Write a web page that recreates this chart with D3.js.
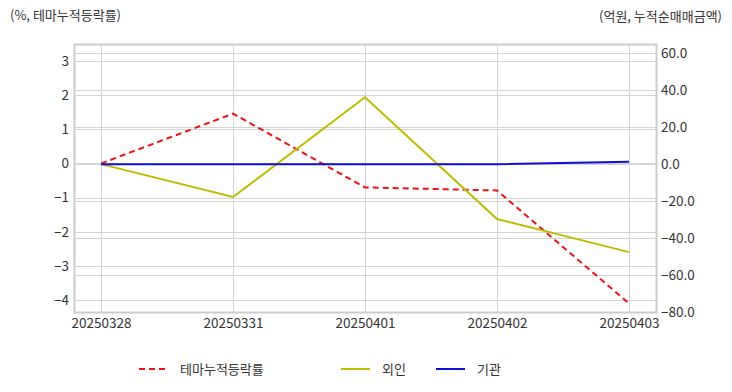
<!DOCTYPE html>
<html>
<head>
<meta charset="utf-8">
<script src="https://cdn.jsdelivr.net/npm/d3@7"></script>
<style>
  body { margin: 0; background: #fff; }
  text { font-family: "Noto Sans CJK KR", "Noto Sans", sans-serif; }
</style>
</head>
<body>
<svg id="chart" width="732" height="392"></svg>
<script>
const dates = ['20250328', '20250331', '20250401', '20250402', '20250403'];
const themeReturn = [0, 1.46, -0.70, -0.79, -4.10];      // left axis, %
const foreign = [0, -17.8, 36.2, -29.7, -47.6];          // right axis, 억원
const institution = [0, 0, 0, 0, 1.3];                   // right axis, 억원
const leftTicks = [3, 2, 1, 0, -1, -2, -3, -4];
const rightTicks = [60, 40, 20, 0, -20, -40, -60, -80];

const svg = d3.select('#chart');
const plotL = 74, plotR = 656, plotT = 44, plotB = 312;

const x = d3.scalePoint().domain(dates).range([plotL, plotR]).padding(0.2045);
const yL = d3.scaleLinear().domain([-4.35, 3.5]).range([plotB, plotT]);
const yR = d3.scaleLinear().domain([-80, 65]).range([plotB, plotT]);

const grid = svg.append('g').attr('stroke', '#d4d4d4').attr('stroke-width', 1);
grid.selectAll('.gl').data(leftTicks).join('line')
  .attr('x1', plotL).attr('x2', plotR)
  .attr('y1', d => Math.round(yL(d)) + 0.5).attr('y2', d => Math.round(yL(d)) + 0.5);
grid.selectAll('.gr').data(rightTicks).join('line')
  .attr('x1', plotL).attr('x2', plotR)
  .attr('y1', d => Math.round(yR(d)) + 0.5).attr('y2', d => Math.round(yR(d)) + 0.5);
grid.selectAll('.gx').data(dates).join('line')
  .attr('y1', plotT).attr('y2', plotB)
  .attr('x1', d => Math.round(x(d)) + 0.5).attr('x2', d => Math.round(x(d)) + 0.5);

svg.append('rect')
  .attr('x', plotL + 0.5).attr('y', plotT + 0.5)
  .attr('width', plotR - plotL).attr('height', plotB - plotT)
  .attr('fill', 'none').attr('stroke', '#cccccc').attr('stroke-width', 2);

const axisText = { size: 13.5, fill: '#333' };

svg.append('g').attr('transform', `translate(${plotL},0)`)
  .call(d3.axisLeft(yL).tickValues(leftTicks).tickFormat(d3.format('d')).tickSize(0).tickPadding(5))
  .call(g => g.select('.domain').remove())
  .call(g => g.selectAll('text').attr('font-size', axisText.size).attr('fill', axisText.fill)
    .style('font-family', '"Noto Sans CJK KR", sans-serif'));

svg.append('g').attr('transform', `translate(${plotR},0)`)
  .call(d3.axisRight(yR).tickValues(rightTicks).tickFormat(d3.format('.1f')).tickSize(0).tickPadding(5))
  .call(g => g.select('.domain').remove())
  .call(g => g.selectAll('text').attr('font-size', axisText.size).attr('fill', axisText.fill)
    .style('font-family', '"Noto Sans CJK KR", sans-serif'));

svg.append('g').attr('transform', `translate(0,${plotB})`)
  .call(d3.axisBottom(x).tickSize(0).tickPadding(6))
  .call(g => g.select('.domain').remove())
  .call(g => g.selectAll('text').attr('font-size', axisText.size).attr('fill', axisText.fill)
    .style('font-family', '"Noto Sans CJK KR", sans-serif'));

svg.append('text').attr('x', 10).attr('y', 20).attr('font-size', 13).attr('fill', '#333')
  .text('(%, 테마누적등락률)');
svg.append('text').attr('x', 722).attr('y', 21).attr('font-size', 13).attr('fill', '#333')
  .attr('text-anchor', 'end').text('(억원, 누적순매매금액)');

const series = [
  { name: '테마누적등락률', values: themeReturn, y: yL, color: '#e8141a', dash: '6,4' },
  { name: '외인', values: foreign, y: yR, color: '#bcbc00', dash: null },
  { name: '기관', values: institution, y: yR, color: '#1010dd', dash: null }
];

const line = (s) => d3.line().x((d, i) => x(dates[i])).y(d => s.y(d))(s.values);

svg.append('g').selectAll('path').data(series).join('path')
  .attr('d', line)
  .attr('fill', 'none')
  .attr('stroke', d => d.color)
  .attr('stroke-width', 2)
  .attr('stroke-dasharray', d => d.dash);

const legendX = [139, 341, 436];
const legend = svg.append('g').selectAll('g').data(series).join('g')
  .attr('transform', (d, i) => `translate(${legendX[i]},369)`);
legend.append('line').attr('x1', 0).attr('x2', 29)
  .attr('stroke', d => d.color).attr('stroke-width', 2)
  .attr('stroke-dasharray', d => d.dash);
legend.append('text').attr('x', 41).attr('y', 5).attr('font-size', 13).attr('fill', '#333')
  .text(d => d.name);
</script>
</body>
</html>
